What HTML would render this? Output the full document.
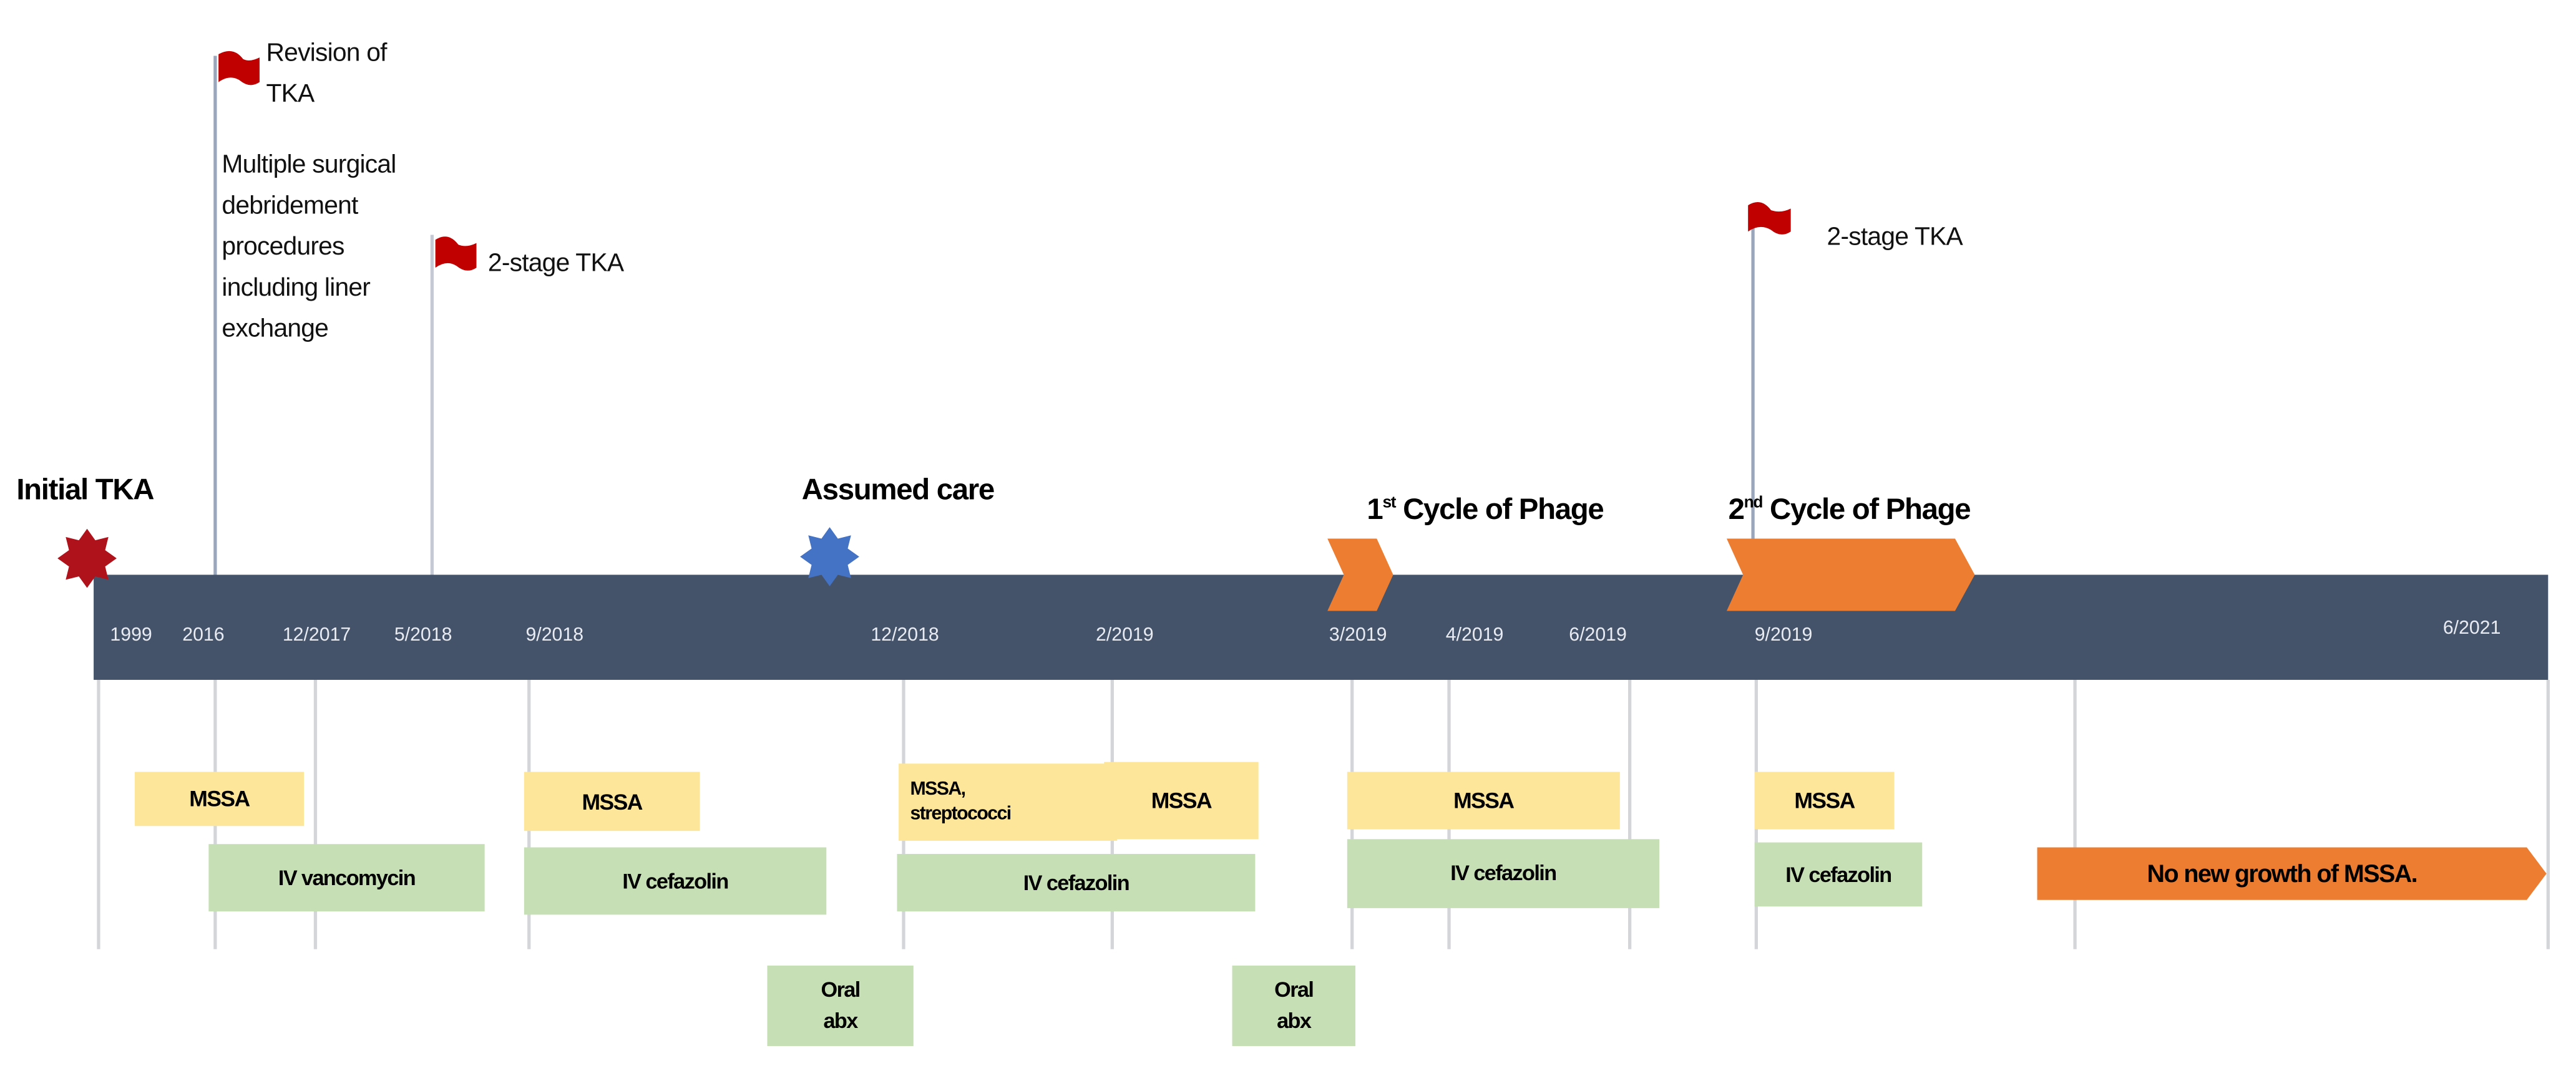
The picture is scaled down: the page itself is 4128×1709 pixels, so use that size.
<!DOCTYPE html>
<html><head><meta charset="utf-8"><style>
html,body{margin:0;padding:0;background:#fff;width:4128px;height:1708px;overflow:hidden}
#w{position:absolute;left:0;top:0;width:1568px;height:649px;transform:scale(2.6327);transform-origin:0 0;font-family:"Liberation Sans",sans-serif}
.a{position:absolute;white-space:nowrap}
.d{position:absolute;color:#e8ecf2;font-size:11.5px;top:381px}
.y{position:absolute;background:#fde69a;display:flex;align-items:center;justify-content:center;font-weight:bold;font-size:13.5px;letter-spacing:-0.6px}
.g{position:absolute;background:#c6dfb4;display:flex;align-items:center;justify-content:center;font-weight:bold;font-size:13px;letter-spacing:-0.6px;text-align:center;line-height:1.5}
.t{position:absolute;width:1.5px;background:#d3d5d9;top:414px;height:164px}
.v{position:absolute;width:2px;background:#9aa6bb}
.n{font-size:15.5px;color:#111;line-height:25px;letter-spacing:-0.3px}
.b{font-weight:bold;font-size:18px;letter-spacing:-0.5px}
</style></head><body><div id="w">
<div class="t" style="left:59px"></div><div class="t" style="left:130px"></div><div class="t" style="left:191px"></div>
<div class="t" style="left:321px"></div><div class="t" style="left:549px"></div><div class="t" style="left:676px"></div>
<div class="t" style="left:822px"></div><div class="t" style="left:881px"></div><div class="t" style="left:991px"></div>
<div class="t" style="left:1068px"></div><div class="t" style="left:1262px"></div><div class="t" style="left:1550px"></div>
<div class="v" style="left:130px;top:34px;height:318px"></div>
<div class="v" style="left:262px;top:143px;height:209px;background:#c4c9d4"></div>
<div class="v" style="left:1066px;top:125px;height:227px"></div>
<div class="a" style="left:57px;top:350px;width:1494px;height:64px;background:#44536a"></div>
<div class="d" style="left:67px">1999</div><div class="d" style="left:111px">2016</div>
<div class="d" style="left:172px">12/2017</div><div class="d" style="left:240px">5/2018</div>
<div class="d" style="left:320px">9/2018</div><div class="d" style="left:530px">12/2018</div>
<div class="d" style="left:667px">2/2019</div><div class="d" style="left:809px">3/2019</div>
<div class="d" style="left:880px">4/2019</div><div class="d" style="left:955px">6/2019</div>
<div class="d" style="left:1068px">9/2019</div><div class="d" style="left:1487px;top:377px">6/2021</div>
<svg class="a" style="left:0;top:0" width="1568" height="649">
<polygon fill="#b0121b" points="53,322 58,329 66,327 64,335 71,340 64,345 66,353 58,351 53,358 48,351 40,353 42,345 35,340 42,335 40,327 48,329"/>
<polygon fill="#4472c4" points="505,321 510,328 518,326 516,334 523,339 516,344 518,352 510,350 505,357 500,350 492,352 494,344 487,339 494,334 492,326 500,328"/>
<path fill="#c00000" d="M133,33 Q142,28 148,36 Q152,38 158,35 L158,50 Q152,54 146,49 Q140,45 133,50Z"/>
<path fill="#c00000" d="M265,146 Q273,141 279,149 Q284,151 290,148 L290,163 Q284,167 278,162 Q272,158 265,163Z"/>
<path fill="#c00000" d="M1064,125 Q1072,120 1078,128 Q1084,130 1090,127 L1090,141 Q1084,145 1078,140 Q1071,136 1064,141Z"/>
<polygon fill="#ed7d31" points="808,328 838,328 848,350 838,372 808,372 818,350"/>
<polygon fill="#ed7d31" points="1051,328 1190,328 1202,350 1190,372 1051,372 1061,350"/>
<polygon fill="#ed7d31" points="1240,516 1538,516 1550,532 1538,548 1240,548"/>
</svg>
<div class="a b" style="left:10px;top:288px">Initial TKA</div>
<div class="a b" style="left:488px;top:288px">Assumed care</div>
<div class="a b" style="left:832px;top:300px">1<sup style="font-size:10px">st</sup> Cycle of Phage</div>
<div class="a b" style="left:1052px;top:300px">2<sup style="font-size:10px">nd</sup> Cycle of Phage</div>
<div class="a n" style="left:162px;top:20px">Revision of<br>TKA</div>
<div class="a n" style="left:135px;top:88px">Multiple surgical<br>debridement<br>procedures<br>including liner<br>exchange</div>
<div class="a n" style="left:297px;top:148px">2-stage TKA</div>
<div class="a n" style="left:1112px;top:132px">2-stage TKA</div>
<div class="y" style="left:82px;top:470px;width:103px;height:33px">MSSA</div>
<div class="y" style="left:319px;top:470px;width:107px;height:36px">MSSA</div>
<div class="y" style="left:547px;top:465px;width:133px;height:47px;justify-content:flex-start;padding-left:7px;box-sizing:border-box;font-size:11.5px;line-height:1.3">MSSA,<br>streptococci</div>
<div class="y" style="left:672px;top:464px;width:94px;height:47px">MSSA</div>
<div class="y" style="left:820px;top:470px;width:166px;height:35px">MSSA</div>
<div class="y" style="left:1068px;top:470px;width:85px;height:35px">MSSA</div>
<div class="g" style="left:127px;top:514px;width:168px;height:41px">IV vancomycin</div>
<div class="g" style="left:319px;top:516px;width:184px;height:41px">IV cefazolin</div>
<div class="g" style="left:546px;top:520px;width:218px;height:35px">IV cefazolin</div>
<div class="g" style="left:820px;top:511px;width:190px;height:42px">IV cefazolin</div>
<div class="g" style="left:1068px;top:513px;width:102px;height:39px">IV cefazolin</div>
<div class="g" style="left:467px;top:588px;width:89px;height:49px;line-height:1.45">Oral<br>abx</div>
<div class="g" style="left:750px;top:588px;width:75px;height:49px;line-height:1.45">Oral<br>abx</div>
<div class="a" style="left:1240px;top:516px;width:298px;height:32px;display:flex;align-items:center;justify-content:center;font-weight:bold;font-size:15px;letter-spacing:-0.6px">No new growth of MSSA.</div>
</div></body></html>
